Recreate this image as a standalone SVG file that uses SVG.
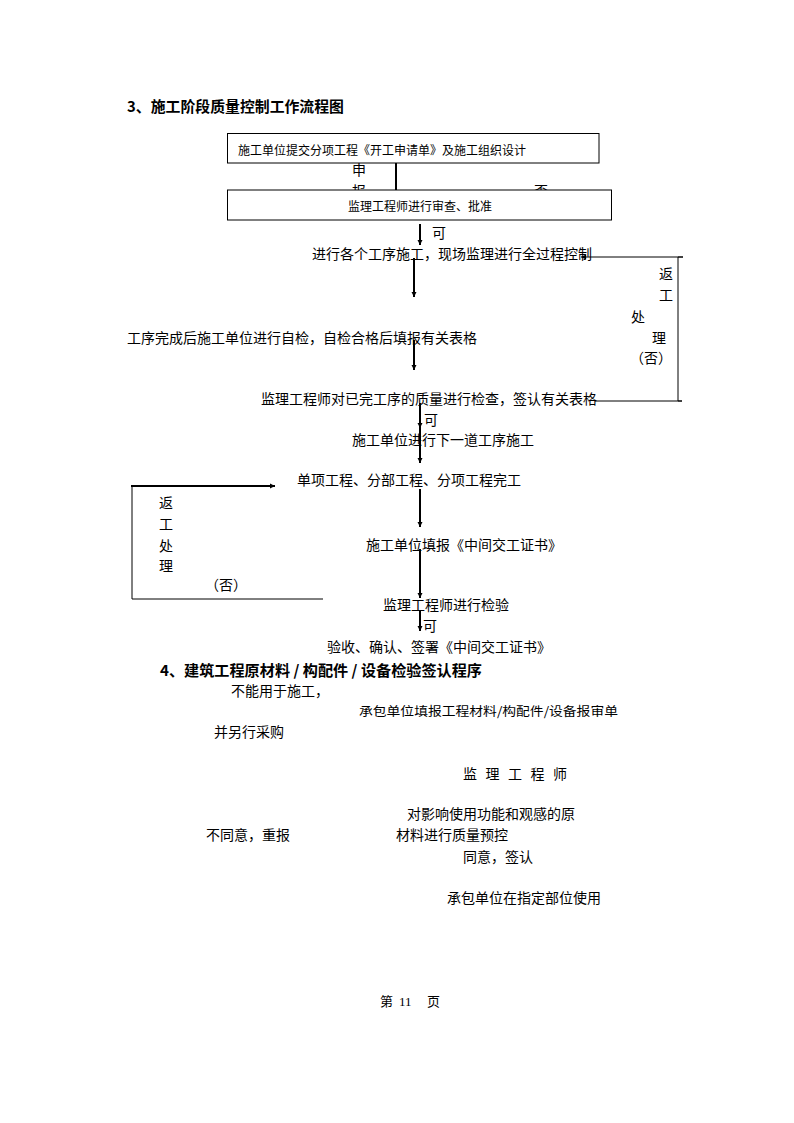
<svg xmlns="http://www.w3.org/2000/svg" width="794" height="1123" viewBox="0 0 794 1123">
<style>
text{font-family:"Noto Sans CJK SC","Noto Sans",sans-serif;font-size:14px;fill:#000}
.h{font-weight:bold;font-size:15px}
.s{font-size:12px}
.box{fill:#fff;stroke:#000;stroke-width:1}
.c{stroke:#000;stroke-width:2;fill:none}
.t{stroke:#000;stroke-width:1;fill:none}
</style>
<defs>
<marker id="ah" markerWidth="6" markerHeight="6" refX="5" refY="3" orient="auto" markerUnits="userSpaceOnUse"><path d="M0,0.5 L5,3 L0,5.5 z" fill="#000"/></marker>
</defs>
<rect width="794" height="1123" fill="#fff"/>
<text class="h" x="127" y="112" textLength="217" lengthAdjust="spacingAndGlyphs">3、施工阶段质量控制工作流程图</text>

<g id="labels-hidden">
<text x="352" y="175">申</text>
<text x="352" y="196">报</text>
<text x="534" y="196">否</text>
</g>

<g id="connectors">
<line class="c" x1="396" y1="163" x2="396" y2="190"/>
<line class="c" x1="420" y1="224" x2="420" y2="245" marker-end="url(#ah)"/>
<line class="c" x1="414" y1="258" x2="414" y2="297" marker-end="url(#ah)"/>
<line class="c" x1="414" y1="340" x2="414" y2="370" marker-end="url(#ah)"/>
<line class="c" x1="420" y1="403" x2="420" y2="428" marker-end="url(#ah)"/>
<line class="c" x1="420" y1="428" x2="420" y2="463" marker-end="url(#ah)"/>
<line class="c" x1="420" y1="489" x2="420" y2="527" marker-end="url(#ah)"/>
<line class="c" x1="420" y1="549" x2="420" y2="598" marker-end="url(#ah)"/>
<line class="c" x1="420" y1="611" x2="420" y2="631" marker-end="url(#ah)"/>
<polyline class="t" points="682,401 678,401 678,257 683,257"/>
<line class="t" x1="595" y1="401" x2="682" y2="401"/>
<line class="t" x1="683" y1="257" x2="581" y2="257" marker-end="url(#ah)"/>
<polyline class="t" points="323,599 132,599 132,486"/>
<line class="c" x1="131" y1="486" x2="275" y2="486" marker-end="url(#ah)"/>
</g>

<g id="n1"><rect class="box" x="227.5" y="133.5" width="371.5" height="29.5"/><text class="s" x="238" y="154.5">施工单位提交分项工程《开工申请单》及施工组织设计</text></g>
<g id="n2"><rect class="box" x="227.5" y="190" width="384" height="30"/><text class="s" x="348" y="211">监理工程师进行审查、批准</text></g>
<text x="432" y="238">可</text>
<g id="n3"><text x="312" y="259">进行各个工序施工，现场监理进行全过程控制</text></g>
<g id="loop1-label">
<text x="659" y="279">返</text>
<text x="659" y="300">工</text>
<text x="631" y="322">处</text>
<text x="652" y="343">理</text>
<text x="630" y="363">（否）</text>
</g>
<g id="n4"><text x="127" y="343">工序完成后施工单位进行自检，自检合格后填报有关表格</text></g>
<g id="n5"><text x="261" y="404">监理工程师对已完工序的质量进行检查，签认有关表格</text></g>
<text x="424" y="425">可</text>
<g id="n6"><text x="352" y="445">施工单位进行下一道工序施工</text></g>
<g id="n7"><text x="297" y="485">单项工程、分部工程、分项工程完工</text></g>
<g id="loop2-label">
<text x="159" y="508">返</text>
<text x="159" y="529">工</text>
<text x="159" y="551">处</text>
<text x="159" y="571">理</text>
<text x="205" y="590">（否）</text>
</g>
<g id="n8"><text x="366" y="550">施工单位填报《中间交工证书》</text></g>
<g id="n9"><text x="383" y="610">监理工程师进行检验</text></g>
<text x="423" y="631">可</text>
<g id="n10"><text x="327" y="652">验收、确认、签署《中间交工证书》</text></g>

<text class="h" x="160" y="676" textLength="322" lengthAdjust="spacingAndGlyphs">4、建筑工程原材料 / 构配件 / 设备检验签认程序</text>
<g id="m1"><text x="231" y="696">不能用于施工，</text></g>
<g id="m2"><text x="359" y="716" style="font-size:12.5px" textLength="259" lengthAdjust="spacingAndGlyphs">承包单位填报工程材料/构配件/设备报审单</text></g>
<g id="m3"><text x="214" y="737">并另行采购</text></g>
<g id="m4"><text x="463" y="779" textLength="104" lengthAdjust="spacing">监 理 工 程 师</text></g>
<g id="m5"><text x="407" y="819">对影响使用功能和观感的原</text><text x="396" y="840">材料进行质量预控</text></g>
<g id="m6"><text x="206" y="840">不同意，重报</text></g>
<g id="m7"><text x="463" y="862">同意，签认</text></g>
<g id="m8"><text x="447" y="903">承包单位在指定部位使用</text></g>

<text y="1006" style="font-size:13px"><tspan x="380">第</tspan><tspan x="399" style="font-family:'Liberation Serif',serif">11</tspan><tspan x="427">页</tspan></text>
</svg>
